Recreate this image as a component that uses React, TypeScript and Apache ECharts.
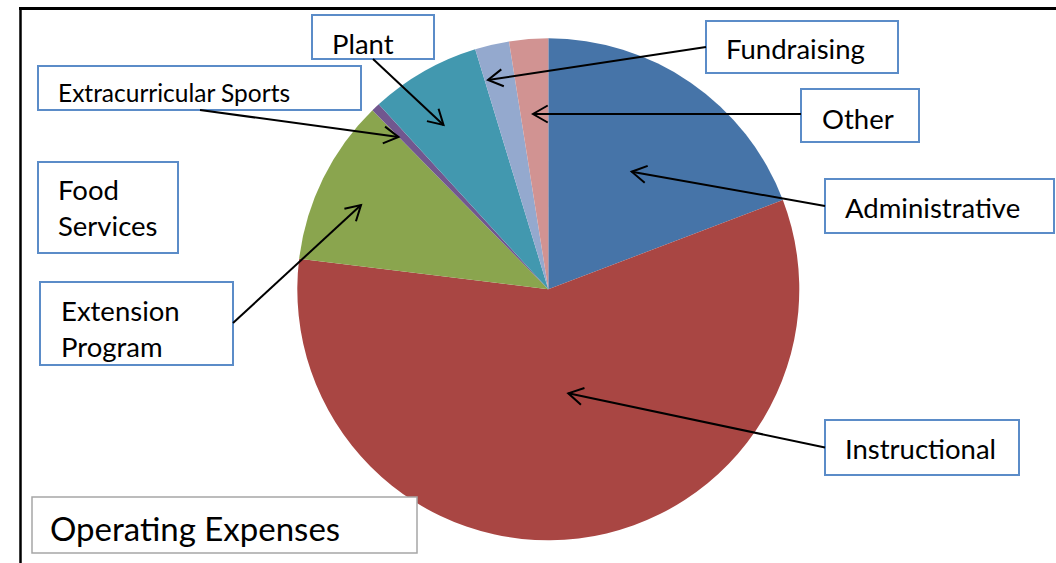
import React, { useEffect, useRef } from "react";
import * as echarts from "echarts";

const categories = [
  "Administrative",
  "Instructional",
  "Extension Program",
  "Extracurricular Sports",
  "Plant",
  "Food Services",
  "Fundraising",
  "Other",
];
const values = [19.2, 57.7, 10.7, 0.55, 7.1, 0, 2.2, 2.5];
const colors = ["#4674A8", "#A94643", "#8AA54E", "#71578F", "#4298AF", "#DB843D", "#94A9CE", "#D19392"];
const chartTitle = "Operating Expenses";

// annotation layout (callout boxes and arrows)
type Callout = {
  lines: string[];
  box: [number, number, number, number];
  textX: number;
  textY: number[];
  size: number;
  arrow?: [number, number, number, number];
};
const callouts: Callout[] = [
  { lines: ["Plant"], box: [312, 15, 122, 44], textX: 332, textY: [43.3], size: 27.5, arrow: [373, 59, 443.5, 125] },
  { lines: ["Extracurricular Sports"], box: [38, 66, 323, 44], textX: 58, textY: [92], size: 24.5, arrow: [200, 110, 398.5, 137] },
  { lines: ["Fundraising"], box: [706, 21, 192, 52], textX: 726, textY: [48.5], size: 27.5, arrow: [706, 47, 488, 80] },
  { lines: ["Other"], box: [801, 89, 118, 53], textX: 822, textY: [118.3], size: 27.5, arrow: [801, 114, 533, 114] },
  { lines: ["Administrative"], box: [825, 179, 229, 54], textX: 845, textY: [207.2], size: 27.5, arrow: [825, 206, 631.7, 171.7] },
  { lines: ["Instructional"], box: [825, 420, 194, 55], textX: 845, textY: [448], size: 27.5, arrow: [825, 447.5, 568.3, 393.3] },
  { lines: ["Food", "Services"], box: [38, 162, 140, 91], textX: 58, textY: [189.5, 225.8], size: 27.5 },
  { lines: ["Extension", "Program"], box: [40, 282, 193, 83], textX: 61, textY: [310.8, 346.2], size: 27.5, arrow: [233, 323, 361, 205] },
];

const FONT = "Lato, 'Open Sans', sans-serif";

function arrowElements(a: [number, number, number, number]) {
  const [sx, sy, tx, ty] = a;
  const dx = sx - tx;
  const dy = sy - ty;
  const len = Math.hypot(dx, dy);
  const ux = dx / len;
  const uy = dy / len;
  const L = 17;
  const th = (30 * Math.PI) / 180;
  const rot = (ang: number) => [
    tx + L * (ux * Math.cos(ang) - uy * Math.sin(ang)),
    ty + L * (ux * Math.sin(ang) + uy * Math.cos(ang)),
  ];
  return [
    {
      type: "line",
      z: 100,
      shape: { x1: sx, y1: sy, x2: tx, y2: ty },
      style: { stroke: "#000", lineWidth: 2 },
    },
    {
      type: "polyline",
      z: 100,
      shape: { points: [rot(th), [tx, ty], rot(-th)] },
      style: { stroke: "#000", lineWidth: 2, fill: null },
    },
  ];
}

export default function App() {
  const ref = useRef<HTMLDivElement>(null);
  useEffect(() => {
    if (!ref.current) return;
    const chart = echarts.init(ref.current, null, { renderer: "svg" });
    const graphics: any[] = [];
    // frame lines
    graphics.push({ type: "line", z: 100, shape: { x1: 19, y1: 8.5, x2: 1056, y2: 8.5 }, style: { stroke: "#000", lineWidth: 3 } });
    graphics.push({ type: "line", z: 100, shape: { x1: 20.5, y1: 7, x2: 20.5, y2: 563 }, style: { stroke: "#000", lineWidth: 2.5 } });
    callouts.forEach((c) => {
      const [x, y, w, h] = c.box;
      graphics.push({
        type: "rect",
        z: 100,
        shape: { x, y, width: w, height: h },
        style: { fill: "#fff", stroke: "#5B8CC8", lineWidth: 2 },
      });
      c.lines.forEach((t, i) => {
        graphics.push({
          type: "text",
          z: 101,
          style: {
            text: t,
            x: c.textX,
            y: c.textY[i],
            fill: "#000",
            fontSize: c.size,
            fontFamily: FONT,
            align: "left",
            verticalAlign: "middle",
          },
        });
      });
      if (c.arrow) graphics.push(...arrowElements(c.arrow));
    });
    // title box
    graphics.push({
      type: "rect",
      z: 100,
      shape: { x: 32, y: 497, width: 385, height: 56 },
      style: { fill: "#fff", stroke: "#A6A6A6", lineWidth: 1.5 },
    });
    graphics.push({
      type: "text",
      z: 101,
      style: {
        text: chartTitle,
        x: 50,
        y: 528,
        fill: "#000",
        fontSize: 33,
        fontFamily: FONT,
        align: "left",
        verticalAlign: "middle",
      },
    });

    chart.setOption({
      animation: false,
      backgroundColor: "#fff",
      graphic: { elements: graphics },
      series: [
        {
          type: "pie",
          center: [548.3, 289.3],
          radius: [0, 251],
          startAngle: 90,
          clockwise: true,
          label: { show: false },
          labelLine: { show: false },
          emphasis: { disabled: true },
          silent: true,
          data: categories.map((name, i) => ({
            name,
            value: values[i],
            itemStyle: { color: colors[i] },
          })),
        },
      ],
    });
    return () => chart.dispose();
  }, []);
  return (
    <div
      ref={ref}
      style={{ position: "absolute", left: 0, top: 0, width: 1056, height: 563 }}
    />
  );
}
